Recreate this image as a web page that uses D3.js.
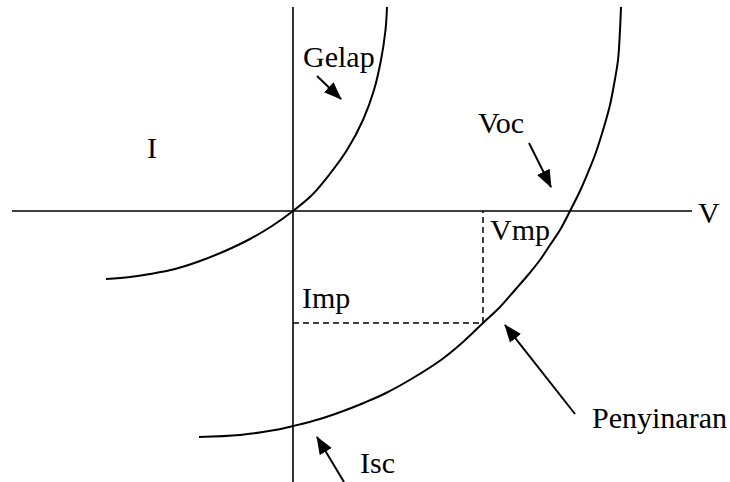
<!DOCTYPE html>
<html>
<head>
<meta charset="utf-8">
<script src="https://cdn.jsdelivr.net/npm/d3@7/dist/d3.min.js"></script>
<style>
  html, body { margin: 0; padding: 0; background: #fff; }
  svg { display: block; }
</style>
</head>
<body>
<svg id="chart" width="730" height="482"></svg>
<script>
// I–V characteristic of a solar cell (arbitrary units, origin at V=0, I=0)

// Dark curve ("Gelap"): [V, I]
const darkCurve = [
  [-18.7, -6.8], [-16.3, -6.6], [-14.3, -6.3], [-11.8, -5.8], [-9.3, -5.0],
  [-6.8, -4.0], [-4.3, -2.8], [-2.1, -1.5], [0, 0], [1.9, 1.6],
  [3.6, 3.6], [5.4, 6.1], [7.0, 9.1], [8.1, 12.1], [8.8, 15.1],
  [9.25, 18.1], [9.4, 20.4]
];

// Illuminated curve ("Penyinaran"): [V, I]
const lightCurve = [
  [-9.4, -22.6], [-5.3, -22.4], [-1.8, -21.9], [0, -21.5], [2.7, -20.8],
  [5.3, -19.9], [7.3, -19.1], [9.3, -18.2], [12.0, -16.7], [14.8, -14.9],
  [17.0, -13.1], [19.0, -11.2], [20.7, -9.6], [22.2, -7.9], [23.5, -6.4],
  [24.7, -4.9], [25.7, -3.4], [26.7, -1.9], [27.7, 0], [28.7, 2.0],
  [29.6, 4.1], [30.2, 5.6], [30.7, 7.1], [31.3, 9.1], [31.7, 10.6],
  [32.0, 12.1], [32.5, 15.1], [32.7, 18.1], [32.8, 20.4]
];

// Maximum power point
const Vmp = 19.0;
const Imp = -11.2;

// Axis extents
const vAxisRange = [-28.1, 39.9];
const iAxisRange = [20.4, -27.1];

const width = 730, height = 482;
const x = d3.scaleLinear().domain([-29.3, 43.7]).range([0, width]);
const y = d3.scaleLinear().domain([21.1, -27.1]).range([0, height]);

const svg = d3.select("#chart");

svg.append("defs").append("marker")
  .attr("id", "head")
  .attr("markerUnits", "userSpaceOnUse")
  .attr("viewBox", "0 -8 18 16")
  .attr("markerWidth", 18)
  .attr("markerHeight", 16)
  .attr("refX", 17)
  .attr("refY", 0)
  .attr("orient", "auto")
  .append("path")
  .attr("d", "M0,-7L18,0L0,7Z")
  .attr("fill", "#000");

// Axes
svg.append("line")
  .attr("x1", x(vAxisRange[0])).attr("x2", x(vAxisRange[1]))
  .attr("y1", y(0)).attr("y2", y(0))
  .attr("stroke", "#000").attr("stroke-width", 1.6);
svg.append("line")
  .attr("x1", x(0)).attr("x2", x(0))
  .attr("y1", y(iAxisRange[0])).attr("y2", y(iAxisRange[1]))
  .attr("stroke", "#000").attr("stroke-width", 1.6);

// Max power rectangle (dashed)
svg.append("path")
  .attr("d", `M${x(0)},${y(Imp)}H${x(Vmp)}V${y(0)}`)
  .attr("fill", "none")
  .attr("stroke", "#000")
  .attr("stroke-width", 1.5)
  .attr("stroke-dasharray", "6,4");

// Curves
const line = d3.line()
  .x(d => x(d[0]))
  .y(d => y(d[1]))
  .curve(d3.curveCatmullRom.alpha(0.5));

svg.append("path").datum(darkCurve)
  .attr("d", line)
  .attr("fill", "none").attr("stroke", "#000").attr("stroke-width", 2);
svg.append("path").datum(lightCurve)
  .attr("d", line)
  .attr("fill", "none").attr("stroke", "#000").attr("stroke-width", 2);

// Arrows: [from V, from I, to V, to I]
const arrows = [
  [2.4, 13.5, 4.8, 11.2],
  [23.6, 6.8, 25.8, 2.4],
  [28.2, -20.3, 21.2, -11.4],
  [5.1, -27.1, 2.4, -22.6]
];
svg.selectAll("line.arrow").data(arrows).join("line")
  .attr("class", "arrow")
  .attr("x1", d => x(d[0])).attr("y1", d => y(d[1]))
  .attr("x2", d => x(d[2])).attr("y2", d => y(d[3]))
  .attr("stroke", "#000").attr("stroke-width", 2)
  .attr("marker-end", "url(#head)");

// Labels: [text, V, I]
const labels = [
  ["Gelap", 1.0, 14.4],
  ["I", -14.6, 5.3],
  ["Voc", 18.5, 7.8],
  ["V", 40.5, -1.2],
  ["Vmp", 19.7, -2.9],
  ["Imp", 0.9, -9.7],
  ["Isc", 6.7, -26.2],
  ["Penyinaran", 29.9, -21.7]
];
svg.selectAll("text.label").data(labels).join("text")
  .attr("class", "label")
  .attr("x", d => x(d[1]))
  .attr("y", d => y(d[2]))
  .attr("font-family", "'Liberation Serif', 'Times New Roman', 'DejaVu Serif', serif")
  .attr("font-size", 30)
  .attr("fill", "#000")
  .text(d => d[0]);
</script>
</body>
</html>
